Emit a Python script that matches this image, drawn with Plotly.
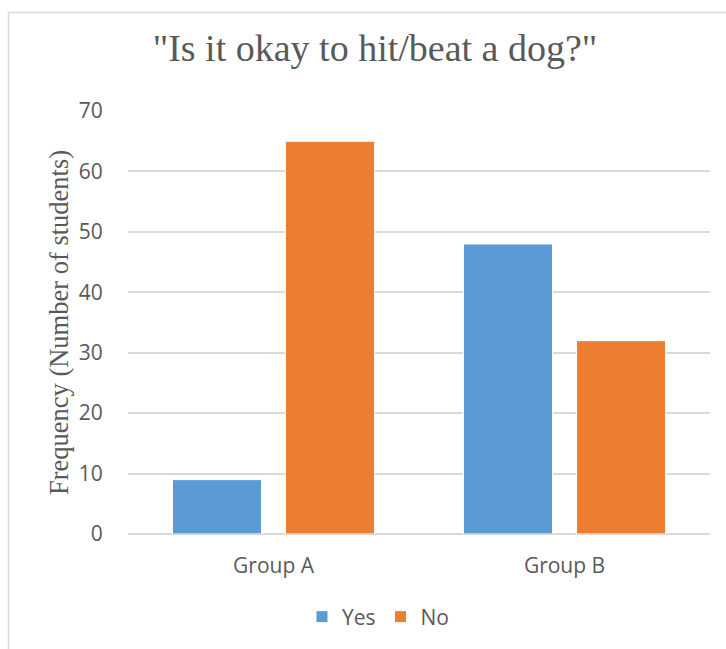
import plotly.graph_objects as go

categories = ["Group A", "Group B"]
yes_values = [9, 48]
no_values = [65, 32]
y_ticks = [0, 10, 20, 30, 40, 50, 60, 70]

TEXT = "#595959"
GRID = "#d9d9d9"
SANS = "Open Sans"
SERIF = "Liberation Serif"

fig = go.Figure()
fig.add_trace(go.Bar(name="Yes", x=categories, y=yes_values,
                     marker=dict(color="#5B9BD5", line=dict(color="#ffffff", width=1))))
fig.add_trace(go.Bar(name="No", x=categories, y=no_values,
                     marker=dict(color="#ED7D31", line=dict(color="#ffffff", width=1))))

L, R, T, B = 128, 16, 111, 115
W, H = 726, 649
pw, ph = W - L - R, H - T - B

def px_x(p):
    return (p - L) / pw

def px_y(p):
    return (H - B - p) / ph

fig.update_layout(
    width=W, height=H,
    margin=dict(l=L, r=R, t=T, b=B, autoexpand=False),
    paper_bgcolor="white", plot_bgcolor="white",
    barmode="group", bargap=0.223, bargroupgap=0.212,
    title=dict(text='"Is it okay to hit/beat a dog?"',
               font=dict(family=SERIF, size=38, color=TEXT),
               x=px_x(375), xref="paper", xanchor="center",
               y=1 - 48 / H, yref="container", yanchor="middle"),
    showlegend=True,
    legend=dict(orientation="h", x=px_x(378), xanchor="center",
                y=px_y(617), yanchor="middle",
                font=dict(family=SANS, size=21, color=TEXT),
                itemwidth=30, itemclick=False),
    xaxis=dict(showgrid=False, showline=False, zeroline=False,
               ticks="outside", ticklen=13, tickcolor="rgba(0,0,0,0)",
               tickfont=dict(family=SANS, size=21, color=TEXT)),
    yaxis=dict(range=[0, 70], tickvals=y_ticks, showgrid=True, gridcolor=GRID,
               gridwidth=1.5, zeroline=True, zerolinecolor=GRID, zerolinewidth=1.5,
               showline=False, ticks="outside", ticklen=20, tickcolor="rgba(0,0,0,0)",
               tickfont=dict(family=SANS, size=21, color=TEXT),
               title=dict(text="Frequency (Number of students)",
                          font=dict(family=SERIF, size=26.5, color=TEXT),
                          standoff=2)),
    shapes=[dict(type="rect", xref="paper", yref="paper",
                 x0=px_x(8.5), x1=px_x(760), y0=px_y(700), y1=px_y(12.5),
                 line=dict(color=GRID, width=1.5), layer="below")],
)

fig.write_html("out.html")
